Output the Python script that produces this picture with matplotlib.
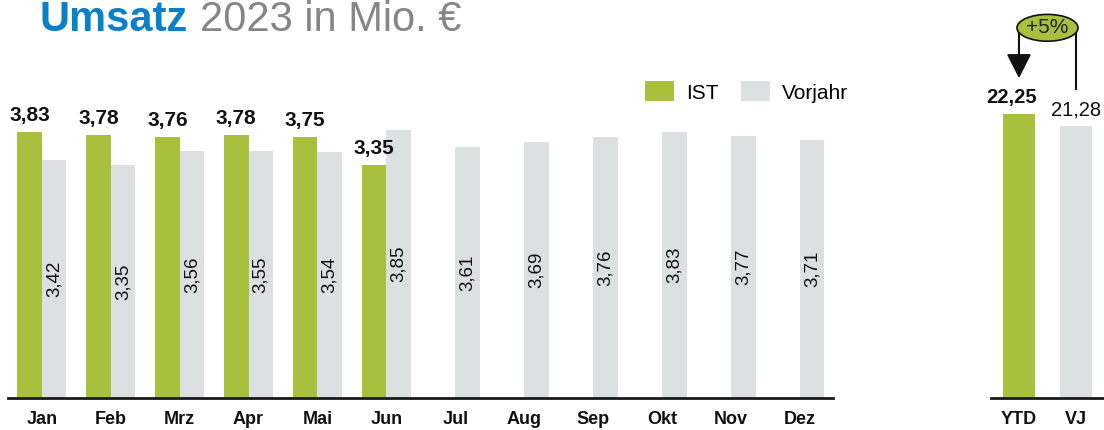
import matplotlib
matplotlib.use('Agg')
import matplotlib.pyplot as plt
from matplotlib.patches import Patch, Ellipse
import numpy as np

plt.rcParams['font.family'] = ['Liberation Sans', 'DejaVu Sans']

months = ['Jan', 'Feb', 'Mrz', 'Apr', 'Mai', 'Jun', 'Jul', 'Aug', 'Sep', 'Okt', 'Nov', 'Dez']
ist = [3.83, 3.78, 3.76, 3.78, 3.75, 3.35]
vorjahr = [3.42, 3.35, 3.56, 3.55, 3.54, 3.85, 3.61, 3.69, 3.76, 3.83, 3.77, 3.71]
ytd_labels = ['YTD', 'VJ']
ytd_values = [22.25, 21.28]

green = '#a8c03e'
grey = '#dde0e0'
dark = '#111111'

def fmt(v):
    return f'{v:.2f}'.replace('.', ',')

W, H = 1104, 430
fig = plt.figure(figsize=(W / 100, H / 100), dpi=100)

# monthly axes
ax = fig.add_axes([8 / W, 32 / H, 825 / W, 312.75 / H])
x = np.arange(len(months))
w = 0.356
xi = x[:len(ist)]
ax.bar(xi - w / 2, ist, w, color=green)
ax.bar(x + w / 2, vorjahr, w, color=grey)
ax.set_xlim(-0.49, 11.48)
ax.set_ylim(0, 4.5)
ax.set_xticks(x)
ax.set_xticklabels(months, fontsize=13, fontweight='bold', color=dark)
ax.set_yticks([])
ax.tick_params(axis='x', length=0, pad=9)
for s in ['left', 'right', 'top']:
    ax.spines[s].set_visible(False)
ax.spines['bottom'].set_color('#1a1a1a')
ax.spines['bottom'].set_linewidth(2)

for xx, v in zip(xi, ist):
    ax.annotate(fmt(v), (xx - w / 2, v), xytext=(0, 5), textcoords='offset points',
                ha='center', va='bottom', fontsize=15, fontweight='bold', color=dark)
for xx, v in zip(x, vorjahr):
    ax.text(xx + w / 2, v / 2, fmt(v), rotation=90, ha='center', va='center',
            fontsize=13.5, color=dark)

handles = [Patch(facecolor=green, label='IST'), Patch(facecolor=grey, label='Vorjahr')]
fig.legend(handles=handles, loc='center', bbox_to_anchor=(746.5 / W, 1 - 92 / H),
           bbox_transform=fig.transFigure, ncol=2, frameon=False, fontsize=15,
           handlelength=1.4, handleheight=1.1, handletextpad=0.58, columnspacing=1.06,
           borderpad=0)

# YTD axes
ax2 = fig.add_axes([991 / W, 32 / H, 113 / W, 312.75 / H])
xy = np.arange(len(ytd_values))
ax2.bar(xy, ytd_values, 0.56, color=[green, grey])
ax2.set_xlim(-0.49, 1.49)
ax2.set_ylim(0, 24.5)
ax2.set_xticks(xy)
ax2.set_xticklabels(ytd_labels, fontsize=13, fontweight='bold', color=dark)
ax2.set_yticks([])
ax2.tick_params(axis='x', length=0, pad=9)
for s in ['left', 'right', 'top']:
    ax2.spines[s].set_visible(False)
ax2.spines['bottom'].set_color('#1a1a1a')
ax2.spines['bottom'].set_linewidth(2)
ax2.annotate(fmt(ytd_values[0]), (0, ytd_values[0]), xytext=(-5, 5), textcoords='offset points',
             ha='center', va='bottom', fontsize=14.5, fontweight='bold', color=dark,
             annotation_clip=False)
ax2.annotate(fmt(ytd_values[1]), (1, ytd_values[1]), xytext=(0, 5), textcoords='offset points',
             ha='center', va='bottom', fontsize=14.5, color=dark, annotation_clip=False)

# change bubble with arrow
pct = (ytd_values[0] / ytd_values[1] - 1) * 100
top = 29.0
ax2.plot([1, 1, 0.5], [ytd_values[1] + 2.9, top, top], color=dark, lw=1.5, clip_on=False)
ax2.annotate('', xy=(0, ytd_values[0] + 2.8), xytext=(0, top),
             arrowprops=dict(arrowstyle='-|>,head_length=0.75,head_width=0.38',
                             mutation_scale=20, color=dark, lw=1.5, shrinkA=0, shrinkB=0),
             annotation_clip=False)
ax2.plot([0, 0.5], [top, top], color=dark, lw=1.5, clip_on=False)
ell = Ellipse((0.5, top), 1.07, 2.1, facecolor=green, edgecolor=dark, lw=1.2,
              clip_on=False, zorder=5)
ax2.add_patch(ell)
ax2.text(0.5, top, f'+{pct:.0f}%', ha='center', va='center', fontsize=15,
         color='#222222', zorder=6, clip_on=False)

# title
t1 = fig.text(39 / W, 1 - 31 / H, 'Umsatz', fontsize=30, fontweight='bold',
              color='#0a80c8', va='baseline', ha='left')
ax.annotate('2023 in Mio. €', xy=(1, 0), xycoords=t1, xytext=(9, 0),
            textcoords='offset points', va='bottom', ha='left', fontsize=30,
            color='#868686', annotation_clip=False)

fig.savefig('out.png', dpi=100)
